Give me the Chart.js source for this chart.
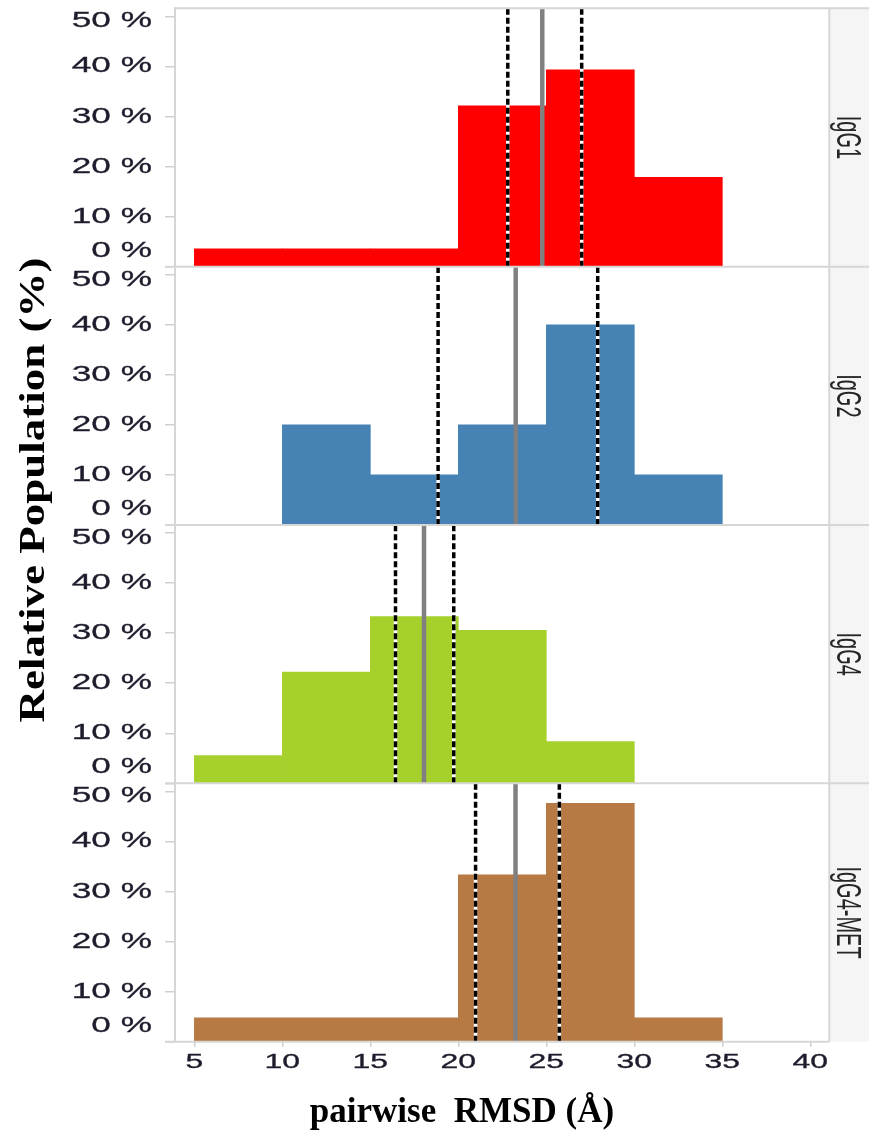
<!DOCTYPE html>
<html><head><meta charset="utf-8">
<script src="https://cdn.jsdelivr.net/npm/chart.js@4.4.1/dist/chart.umd.min.js"></script>
<style>html,body{margin:0;padding:0;background:#fff;}#wrap{width:869px;height:1130px;}</style>
</head><body><div id="wrap"><canvas id="c" width="869" height="1130"></canvas></div>
<script>
// ---- data ----
const panelNames = ['IgG1', 'IgG2', 'IgG4', 'IgG4-MET'];
const binCenters = [7.5, 12.5, 17.5, 22.5, 27.5, 32.5];
const igg1Pct = [3.57, 3.57, 3.57, 32.14, 39.29, 17.86];
const igg2Pct = [null, 20, 10, 20, 40, 10];
const igg4Pct = [5.56, 22.22, 33.33, 30.56, 8.33, null];
const igg4metPct = [4.76, 4.76, 4.76, 33.33, 47.62, 4.76];
const meanRmsd = [24.77, 23.26, 18.05, 23.25];
const lowRmsd = [22.81, 18.85, 16.43, 20.98];
const highRmsd = [27.01, 27.92, 19.74, 25.74];
const xTickValues = [5, 10, 15, 20, 25, 30, 35, 40];
const xTickLabels = ['5', '10', '15', '20', '25', '30', '35', '40'];
const yTickValues = [0, 10, 20, 30, 40, 50];
const yTickLabels = ['0 %', '10 %', '20 %', '30 %', '40 %', '50 %'];
const xTitle = 'pairwise  RMSD (\u00C5)';
const yTitle = 'Relative Population (%)';

// ---- styling ----
const panelValues = [igg1Pct, igg2Pct, igg4Pct, igg4metPct];
const barColors = ['#ff0000', '#4682b4', '#a6d12d', '#b87a45'];
const Y_MAX = 51.6;
const X_MIN = 3.9, X_MAX = 41.08;
const SX = 1.6; // horizontal stretch of the sans-serif labels
const gridCol = '#d6d6d6';
const tickCol = '#1c1c2c';
const sans = '"Liberation Sans", Arial, sans-serif';
const serif = '"Liberation Serif", "Times New Roman", serif';

const datasets = [];
panelValues.forEach((vals, i) => {
  const yID = 'y' + i;
  datasets.push({
    type: 'bar', yAxisID: yID, xAxisID: 'x',
    data: binCenters.map((x, k) => ({x: x, y: vals[k]})),
    backgroundColor: barColors[i], borderWidth: 0,
    barPercentage: 1, categoryPercentage: 1, grouped: false, order: 10
  });
  [lowRmsd[i], highRmsd[i]].forEach(v => {
    datasets.push({
      type: 'line', yAxisID: yID, xAxisID: 'x',
      data: [{x: v, y: 0}, {x: v, y: Y_MAX}],
      borderColor: '#ffffff', borderWidth: 3.5, pointRadius: 0, order: 3
    });
    datasets.push({
      type: 'line', yAxisID: yID, xAxisID: 'x',
      data: [{x: v, y: 0}, {x: v, y: Y_MAX}],
      borderColor: '#000000', borderWidth: 3.5, borderDash: [6, 3], pointRadius: 0, order: 1
    });
  });
  datasets.push({
    type: 'line', yAxisID: yID, xAxisID: 'x',
    data: [{x: meanRmsd[i], y: 0}, {x: meanRmsd[i], y: Y_MAX}],
    borderColor: '#808080', borderWidth: 4.5, pointRadius: 0, order: 2
  });
});

function zeroPad(s) { s.paddingTop = 0; s.paddingBottom = 0; s.paddingLeft = 0; s.paddingRight = 0; }

function yAxis() {
  return {
    type: 'linear', axis: 'y', position: 'left', stack: 'panels', stackWeight: 1,
    min: 0, max: Y_MAX, offset: false,
    afterBuildTicks: s => { s.ticks = yTickValues.map(v => ({value: v})); },
    afterFit: s => { s.width = 175; zeroPad(s); },
    grid: {display: true, drawOnChartArea: false, drawTicks: true, tickLength: 10, color: '#d0d0d0', lineWidth: 1.5, offset: false},
    border: {display: true, color: gridCol, width: 2},
    ticks: {
      padding: 13, color: tickCol, autoSkip: false,
      textStrokeColor: tickCol, textStrokeWidth: 0.3,
      font: c => ({family: sans, size: 22,
        lineHeight: (c.tick && c.tick.value === 0) ? '32px' : ((c.tick && c.tick.value === 50) ? '10px' : 1.2)}),
      callback: (v) => {
        const lab = yTickLabels[yTickValues.indexOf(v)];
        if (v === 0) return [lab, ''];
        if (v === 50) return ['', lab];
        return lab;
      }
    }
  };
}

const facetPlugin = {
  id: 'facet',
  beforeDraw(chart) {
    const ctx = chart.ctx;
    const proto = CanvasRenderingContext2D.prototype;
    ['fillText', 'strokeText'].forEach(fn => {
      const orig = proto[fn];
      ctx[fn] = function (t, x, y, mw) {
        this.save(); this.translate(x, y); this.scale(SX, 1);
        if (mw === undefined) orig.call(this, t, 0, 0); else orig.call(this, t, 0, 0, mw / SX);
        this.restore();
      };
    });
  },
  afterDraw(chart) {
    const ctx = chart.ctx;
    delete ctx.fillText; delete ctx.strokeText;
    const a = chart.chartArea;
    const W = chart.width;
    ctx.save();
    ctx.fillStyle = '#f5f5f5';
    ctx.fillRect(a.right, a.top, W - a.right, a.bottom - a.top);
    ctx.strokeStyle = gridCol; ctx.lineWidth = 2;
    ctx.beginPath(); ctx.moveTo(a.right, a.top); ctx.lineTo(a.right, a.bottom); ctx.stroke();
    ctx.beginPath(); ctx.moveTo(a.left, a.top); ctx.lineTo(W, a.top); ctx.stroke();
    panelNames.forEach((name, i) => {
      const s = chart.scales['y' + i];
      ctx.strokeStyle = gridCol; ctx.lineWidth = 2;
      ctx.beginPath(); ctx.moveTo(a.left - 10, s.bottom); ctx.lineTo(i === 3 ? a.right : W, s.bottom); ctx.stroke();
      ctx.save();
      ctx.translate(847, (s.top + s.bottom) / 2); ctx.scale(1.8, 1); ctx.rotate(Math.PI / 2);
      ctx.fillStyle = '#262626'; ctx.font = '20px ' + sans;
      ctx.textAlign = 'center'; ctx.textBaseline = 'middle';
      ctx.fillText(name, 0, 0);
      ctx.restore();
    });
    ctx.fillStyle = '#000';
    ctx.save();
    ctx.translate(44, 490); ctx.rotate(-Math.PI / 2); ctx.scale(1.25, 1);
    ctx.font = 'bold 36px ' + serif; ctx.textAlign = 'center'; ctx.textBaseline = 'alphabetic';
    ctx.fillText(yTitle, 0, 0);
    ctx.restore();
    ctx.font = 'bold 35px ' + serif; ctx.textAlign = 'center'; ctx.textBaseline = 'alphabetic';
    ctx.fillText(xTitle, 462, 1122);
    ctx.restore();
  }
};

new Chart(document.getElementById('c'), {
  data: {datasets: datasets},
  options: {
    responsive: false, animation: false, devicePixelRatio: 1, events: [],
    layout: {padding: {top: 8.3, right: 39.7, left: 0, bottom: 0}},
    plugins: {legend: {display: false}, tooltip: {enabled: false}},
    scales: {
      x: {
        type: 'linear', position: 'bottom', min: X_MIN, max: X_MAX, offset: false,
        afterBuildTicks: s => { s.ticks = xTickValues.map(v => ({value: v})); },
        afterFit: s => { s.height = 88.3; zeroPad(s); },
        grid: {display: true, drawOnChartArea: false, drawTicks: true, tickLength: 5, color: '#cccccc', lineWidth: 1.5, offset: false},
        border: {display: false},
        ticks: {padding: 4, color: tickCol, maxRotation: 0, autoSkip: false,
          textStrokeColor: tickCol, textStrokeWidth: 0.3,
          font: {family: sans, size: 20},
          callback: v => xTickLabels[xTickValues.indexOf(v)]}
      },
      y3: yAxis(), y2: yAxis(), y1: yAxis(), y0: yAxis()
    }
  },
  plugins: [facetPlugin]
});
</script></body></html>
